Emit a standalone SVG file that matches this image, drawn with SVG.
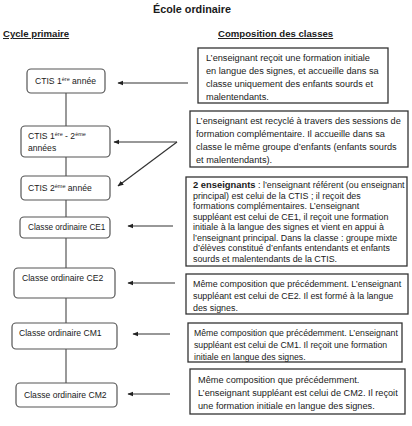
<svg xmlns="http://www.w3.org/2000/svg" width="412" height="426" viewBox="0 0 412 426">
<defs>
<marker id="ah" viewBox="0 0 10 10" refX="9" refY="5" markerWidth="6" markerHeight="6" orient="auto-start-reverse" markerUnits="userSpaceOnUse">
<path d="M0,1 L10,5 L0,9 z" fill="#222"/>
</marker>
<style>
text{font-family:"Liberation Sans",Arial,sans-serif;fill:#1a1a1a}
.title{font-size:10.8px;font-weight:bold;text-anchor:middle}
.head{font-size:9.6px;font-weight:bold;text-decoration:underline}
.node rect{fill:#fff;stroke:#555;stroke-width:1.2}
.node text{font-size:8.6px}
.node text.c{font-size:8.2px}
.desc rect{fill:#fff;stroke:#333;stroke-width:1.3}
.desc text{font-size:9.2px}
#d3 text{font-size:8.9px}
#d4 text{font-size:8.9px}
#d5 text{font-size:8.7px}
.vline{stroke:#777;stroke-width:1.5;fill:none}
.arr{stroke:#333;stroke-width:1.2;fill:none;marker-end:url(#ah)}
.sup{font-size:5.5px}
</style>
</defs>
<rect width="412" height="426" fill="#fff"/>
<text class="title" x="192" y="13">École ordinaire</text>
<text class="head" x="3" y="37">Cycle primaire</text>
<text class="head" x="218" y="37">Composition des classes</text>

<g id="connectors">
<line class="vline" x1="66" y1="93" x2="66" y2="126"/>
<line class="vline" x1="66" y1="157" x2="66" y2="176"/>
<line class="vline" x1="66" y1="200" x2="66" y2="217"/>
<line class="vline" x1="66" y1="238" x2="66" y2="268"/>
<line class="vline" x1="66" y1="298" x2="66" y2="323"/>
<line class="vline" x1="66" y1="349" x2="66" y2="383"/>
<line class="arr" x1="188" y1="83" x2="118" y2="83"/>
<line class="arr" x1="177" y1="142" x2="114" y2="142"/>
<line class="arr" x1="177" y1="142" x2="118" y2="186"/>
<line class="arr" x1="173" y1="226" x2="128" y2="226"/>
<line class="arr" x1="175" y1="283" x2="128" y2="283"/>
<line class="arr" x1="170" y1="334" x2="133" y2="334"/>
<line class="arr" x1="170" y1="394" x2="128" y2="394"/>
</g>

<g id="n1" class="node"><rect x="27" y="69" width="78" height="24" rx="4"/><text x="35" y="84">CTIS 1<tspan class="sup" dy="-3">ère</tspan><tspan dy="3"> année</tspan></text></g>
<g id="n2" class="node"><rect x="21" y="126" width="89" height="31" rx="4"/><text x="28" y="139">CTIS 1<tspan class="sup" dy="-3">ère</tspan><tspan dy="3"> - 2</tspan><tspan class="sup" dy="-3">ème</tspan></text><text x="28" y="151">années</text></g>
<g id="n3" class="node"><rect x="21" y="176" width="89" height="24" rx="4"/><text x="28" y="191">CTIS 2<tspan class="sup" dy="-3">ème</tspan><tspan dy="3"> année</tspan></text></g>
<g id="n4" class="node"><rect x="20" y="217" width="90" height="21" rx="4"/><text class="c" x="28" y="229.5">Classe ordinaire CE1</text></g>
<g id="n5" class="node"><rect x="14" y="268" width="101" height="30" rx="4"/><text x="22" y="281">Classe ordinaire CE2</text></g>
<g id="n6" class="node"><rect x="12" y="323" width="105" height="26" rx="4"/><text x="19" y="336">Classe ordinaire CM1</text></g>
<g id="n7" class="node"><rect x="16" y="383" width="101" height="24" rx="4"/><text x="24" y="397.5">Classe ordinaire CM2</text></g>

<g id="d1" class="desc"><rect x="198" y="48" width="190" height="55"/>
<text x="206" y="61">L’enseignant reçoit une formation initiale</text>
<text x="206" y="74">en langue des signes, et accueille dans sa</text>
<text x="206" y="87">classe uniquement des enfants sourds et</text>
<text x="206" y="99.5">malentendants.</text></g>
<g id="d2" class="desc"><rect x="190" y="111" width="218" height="56"/>
<text x="196" y="124">L’enseignant est recyclé à travers des sessions de</text>
<text x="196" y="137">formation complémentaire. Il accueille dans sa</text>
<text x="196" y="150">classe le même groupe d’enfants (enfants sourds</text>
<text x="196" y="162.5">et malentendants).</text></g>
<g id="d3" class="desc"><rect x="186" y="177" width="221" height="89"/>
<text x="193" y="188"><tspan font-weight="bold" font-size="9.4px">2 enseignants</tspan> : l’enseignant référent (ou enseignant</text>
<text x="193" y="198.5">principal) est celui de la CTIS ; il reçoit des</text>
<text x="193" y="209">formations complémentaires. L’enseignant</text>
<text x="193" y="219.5">suppléant est celui de CE1, il reçoit une formation</text>
<text x="193" y="230">initiale à la langue des signes et vient en appui à</text>
<text x="193" y="240.5">l’enseignant principal. Dans la classe : groupe mixte</text>
<text x="193" y="251">d’élèves constitué d’enfants entendants et enfants</text>
<text x="193" y="261.5">sourds et malentendants de la CTIS.</text></g>
<g id="d4" class="desc"><rect x="186" y="274" width="222" height="40"/>
<text x="193" y="286.5">Même composition que précédemment. L’enseignant</text>
<text x="193" y="298.5">suppléant est celui de CE2. Il est formé à la langue</text>
<text x="193" y="310.5">des signes.</text></g>
<g id="d5" class="desc"><rect x="188" y="323" width="214" height="39"/>
<text x="194" y="335.5">Même composition que précédemment. L’enseignant</text>
<text x="194" y="347.5">suppléant est celui de CM1. Il reçoit une formation</text>
<text x="194" y="359.5">initiale en langue des signes.</text></g>
<g id="d6" class="desc"><rect x="190" y="369" width="215" height="45"/>
<text x="198" y="382.5">Même composition que précédemment.</text>
<text x="198" y="395.5">L’enseignant suppléant est celui de CM2. Il reçoit</text>
<text x="198" y="408.5">une formation initiale en langue des signes.</text></g>
</svg>
